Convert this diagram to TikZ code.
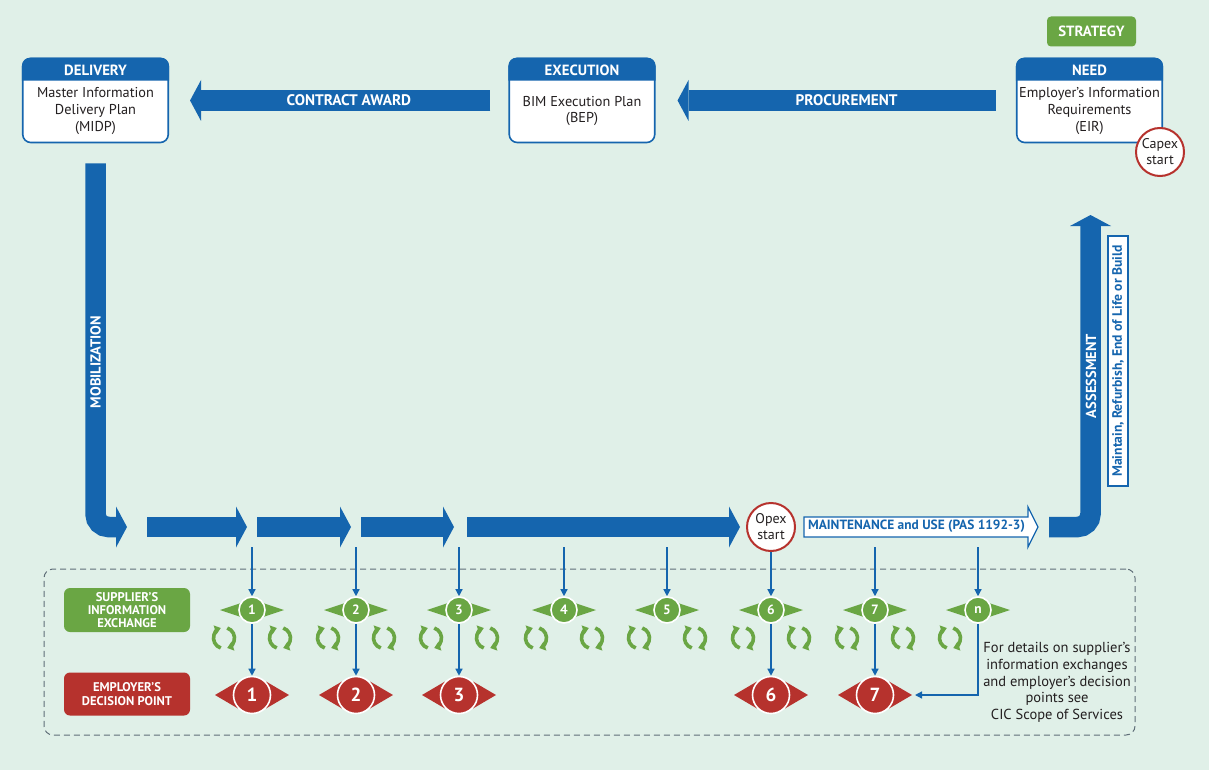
\documentclass[tikz,border=0pt]{standalone}
\usepackage{fontspec}
\setmainfont{PT Sans}
\usetikzlibrary{arrows.meta,calc}
\definecolor{bg}{RGB}{224,240,232}
\definecolor{bblue}{RGB}{21,101,174}
\definecolor{bgreen}{RGB}{106,166,68}
\definecolor{bred}{RGB}{182,50,45}
\definecolor{txt}{RGB}{35,31,32}
\definecolor{dashc}{RGB}{95,110,120}
\newcommand\fsz[2]{\fontsize{#1pt}{#2pt}\selectfont}
\tikzset{
  bigarrow/.style={draw=bblue, line width=20.5pt, -{Triangle[length=11pt,width=41pt,line width=0pt]}},
  stagebody/.style={draw=bblue, fill=white, line width=1.6pt, rounded corners=8pt, minimum width=145.5pt, minimum height=84pt, inner sep=0pt},
  headtxt/.style={text=white, font=\fsz{14.8}{16}\bfseries},
  bodytxt/.style={text=txt, font=\fsz{14.3}{16.8}, align=center, inner sep=0pt},
  arrowlbl/.style={text=white, font=\fsz{15.3}{17}\bfseries, inner sep=0pt},
  startcirc/.style={circle, draw=bred, fill=white, line width=2pt, minimum size=48pt, inner sep=0pt, align=center, font=\fsz{14}{16}, text=txt},
  thinarrow/.style={draw=bblue, line width=1.3pt, -{Triangle[length=7pt,width=7pt]}},
  gcirc/.style={circle, fill=bgreen, draw=white, line width=1.6pt, minimum size=26pt, inner sep=0pt, text=white, font=\fsz{13.5}{14}\bfseries},
  rcirc/.style={circle, fill=bred, draw=white, line width=1.6pt, minimum size=37pt, inner sep=0pt, text=white, font=\fsz{19}{20}\bfseries},
  legend/.style={rounded corners=6pt, minimum width=126pt, inner sep=0pt, text=white, align=center, font=\fsz{12.6}{13.2}\bfseries},
  cyc/.style={draw=bgreen, line width=3.6pt, -{Triangle[length=6pt,width=9.5pt,line width=0pt]}},
}
\newcommand\stagebox[4]{%
  \node[stagebody] (#1) at (#2,100.5) {};
  \fill[bblue] ([yshift=-23pt]#1.north west) [rounded corners=8pt] -- (#1.north west) -- (#1.north east) [sharp corners] -- ([yshift=-23pt]#1.north east) -- cycle;
  \node[headtxt] (#1-h) at (#2,70) {#3};
  \node[bodytxt] (#1-b) at (#2,111) {#4};
}
\newcommand\gnode[3]{%
  \fill[bgreen] (#2-32,610) -- (#2-11,603) -- (#2-11,617) -- cycle;
  \fill[bgreen] (#2+32,610) -- (#2+11,603) -- (#2+11,617) -- cycle;
  \node[gcirc] (#1) at (#2,610) {#3};
}
\newcommand\rnode[3]{%
  \fill[bred] (#2-37,695) -- (#2-14,681.5) -- (#2-14,708.5) -- cycle;
  \fill[bred] (#2+37,695) -- (#2+14,681.5) -- (#2+14,708.5) -- cycle;
  \node[rcirc] (#1) at (#2,695) {#3};
}
\newcommand\recyc[1]{%
  \draw[cyc] (#1,638) ++(108:10.5) arc[start angle=108,end angle=252,radius=10.5];
  \draw[cyc] (#1,638) ++(288:10.5) arc[start angle=288,end angle=432,radius=10.5];
}
\begin{document}
\begin{tikzpicture}[x=1pt,y=-1pt]
\fill[bg] (0,0) rectangle (1209,770);
\useasboundingbox (0,0) rectangle (1209,770);

% stage boxes
\stagebox{deliv}{95.5}{DELIVERY}{Master Information\\Delivery Plan\\(MIDP)}
\stagebox{exec}{582}{EXECUTION}{BIM Execution Plan\\(BEP)}
\stagebox{need}{1089.5}{NEED}{Employer’s Information\\Requirements\\(EIR)}

\node[fill=bgreen, rounded corners=4pt, minimum width=89pt, minimum height=30pt, inner sep=0pt, text=white, font=\fsz{14.8}{16}\bfseries] (strat) at (1091.5,31.5) {STRATEGY};

% top arrows
\draw[bigarrow, shorten <=18pt, shorten >=21pt] (exec.west) -- node[arrowlbl, pos=0.47] (ca) {CONTRACT AWARD} (deliv.east);
\draw[bigarrow, shorten <=20pt, shorten >=22pt] (need.west) -- node[arrowlbl, pos=0.47] (pr) {PROCUREMENT} (exec.east);

% mobilization
\coordinate (m1) at (127,527);
\draw[bigarrow, rounded corners=13pt] ([yshift=-20pt]deliv.south) |- (m1);
\node[arrowlbl, rotate=90, font=\fsz{14.5}{15}\bfseries] (mob) at (95.5,362) {MOBILIZATION};

% assessment
\coordinate (a0) at (1049,527);
\coordinate (a1) at (1090.5,215);
\draw[bigarrow, rounded corners=13pt] (a0) -| (a1);
\node[arrowlbl, rotate=90, font=\fsz{14.5}{15}\bfseries] (ass) at (1091,376) {ASSESSMENT};
\node[draw=bblue, fill=white, line width=1.3pt, rotate=90, minimum width=250pt, minimum height=20pt, inner sep=0pt, text=bblue, font=\fsz{13.6}{14}\bfseries] (mrb) at (1118,361) {Maintain, Refurbish, End of Life or Build};

% capex
\node[startcirc] (capex) at (1160,152) {Capex\\start};

% flow arrows
\coordinate (f1s) at (147,527); \coordinate (f1e) at (247,527);
\coordinate (f2s) at (257,527); \coordinate (f2e) at (351,527);
\coordinate (f3s) at (361,527); \coordinate (f3e) at (454,527);
\coordinate (f4s) at (467,527);
\draw[bigarrow] (f1s) -- (f1e);
\draw[bigarrow] (f2s) -- (f2e);
\draw[bigarrow] (f3s) -- (f3e);
\node[startcirc] (opex) at (771,527) {Opex\\start};
\draw[bigarrow] (f4s) -- ([xshift=-6pt]opex.west);

% maintenance arrow
\draw[draw=bblue, fill=white, line width=1.3pt] (804,517) -- (1028,517) -- (1028,507) -- (1038,527) -- (1028,547) -- (1028,537) -- (804,537) -- cycle;
\node[text=bblue, font=\fsz{13.4}{15}\bfseries, inner sep=0pt] (maint) at (916.5,526.5) {MAINTENANCE and USE (PAS 1192-3)};

% frame
\node[draw=dashc, dash pattern=on 6pt off 4pt, line width=1pt, rounded corners=9pt, minimum width=1091pt, minimum height=166pt, inner sep=0pt] (frame) at (589.5,652) {};

% legend boxes
\node[legend, fill=bgreen, minimum height=44pt] (sup) at (127,610) {SUPPLIER’S\\INFORMATION\\EXCHANGE};
\node[legend, fill=bred, minimum height=43pt] (emp) at (127,694) {EMPLOYER’S\\DECISION POINT};

% green nodes
\gnode{g1}{252}{1}
\gnode{g2}{356}{2}
\gnode{g3}{459}{3}
\gnode{g4}{564}{4}
\gnode{g5}{667}{5}
\gnode{g6}{771}{6}
\gnode{g7}{875}{7}
\gnode{gn}{978}{n}

% red nodes
\rnode{r1}{252}{1}
\rnode{r2}{356}{2}
\rnode{r3}{459}{3}
\rnode{r6}{771}{6}
\rnode{r7}{875}{7}
\coordinate (r7tip) at (915,695);

% connectors
\foreach \x/\n in {252/1,356/2,459/3,564/4,667/5,875/7,978/n}{
  \coordinate (t\n) at (\x,547);
  \draw[thinarrow] (t\n) -- (g\n);
}
\draw[thinarrow] (opex) -- (g6);
\foreach \n in {1,2,3,6,7}{
  \draw[thinarrow] (g\n) -- (r\n);
}
\draw[thinarrow] (gn) |- (r7tip);

% recycle icons
\foreach \x in {224,280,328,384,431,487,536,592,639,695,743,799,847,903,950}{
  \recyc{\x}
}

% note
\node[text=txt, align=center, font=\fsz{14.5}{16.7}, inner sep=0pt] (note) at (1057,682.5) {For details on supplier’s\\information exchanges\\and employer’s decision\\points see\\CIC Scope of Services};
\end{tikzpicture}
\end{document}
